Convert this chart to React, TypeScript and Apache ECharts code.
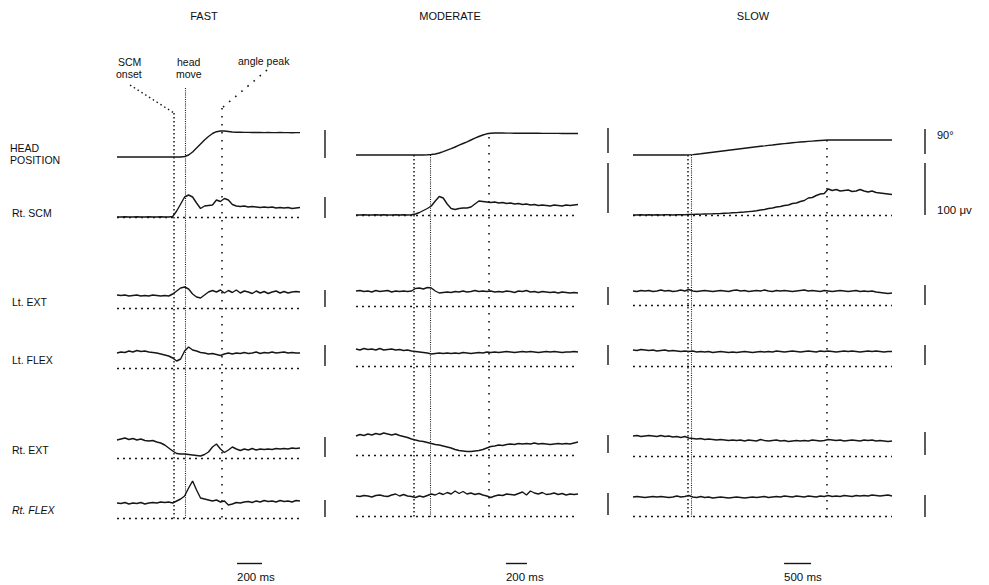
import React, { useEffect, useRef } from "react";
import * as echarts from "echarts";

// ---------------- DATA ----------------
const columnTitles = ["FAST", "MODERATE", "SLOW"];
const rowLabels = ["HEAD", "Rt. SCM", "Lt. EXT", "Lt. FLEX", "Rt. EXT", "Rt. FLEX"];
const spanMs = [1464, 2114, 4800];
const timeBarMs = [200, 200, 500];
const timeBarStartMs = [960, 1428, 2800];
const timeBarLabels = ["200 ms", "200 ms", "500 ms"];
const onsetMs = [456, 552, 1019];
const headMoveMs = [544, 705, 1074];
const anglePeakMs = [840, 1267, 3593];
const eventLabels = ["SCM", "onset", "head", "move", "angle peak"];
const gainLabels = ["90°", "100 μv"];

// traces: amplitude above the dotted baseline (a.u.), evenly sampled over the column's time span
const fastHead = [0,0,0,0,0,0,0,0,0,0,0,0,0,0,0,0,0, 0.5,2,5,9,13,17,20.5,23.5,25.3,26,26,25.5,25, 24.8,24.7,24.6,24.6,24.5,24.5,24.5,24.4,24.5,24.4,24.4,24.5,24.4,24.4,24.3,24.4,24.4];
const fastScm = [0,0,0.2,0,0,0.3,0,0,0.2,0,0,0.3,0,0, 0.5,6,13,20,22,20,14,8.5,11,11.5,12,17,15.5,18.5,17,12.5,11, 10.5,11,10,10.5,10,9.5,10,9.5,10,9,9.5,9,9.5,8.5,9,9.5];
const fastLtExt = [13,12.5,13,12,12.5,13,12,12.5,12,13,12.5,12,12.5,12, 14,17,20,21,19,14,11,10,13,16,17.5,16,18,15,17.5,15.5,18, 15,17,16,14.5,17,15,16.5,14.5,16,17,15,16.5,15,16,16.5,16];
const fastLtFlex = [15,16,15.5,17,16,17.5,16.5,17,16,15.5,15,14,13,12, 10,7,9,17,21,18,17,15.5,15,14,14.5,13.5,12.5,14,15,14,15, 14.5,15.5,14.5,15,16,14.5,15.5,15,16,15,15.5,16,15,15.5,15,15];
const fastRtExt = [18,19,20,18.5,19.5,18,19,17.5,17,17.5,16,15,13,10, 7,4.5,4,4,3.5,3,2.5,2,3.5,6,11,14,9,5.5,8,11,9, 7.5,9,8,9.5,8,9,8.5,9,8.5,9.5,9,9.5,9,10,9.5,10];
const fastRtFlex = [15,14.5,15.5,14,15,14.5,15.5,14,15,15.5,15,16,15.5,16, 15,17,19,22,30,37,28,20,19,18,17,18,16,17,13,14,15.5, 15,16,16.5,15.5,17,16,17.5,16.5,17,16,17.5,16.5,17,16,17.5,17];

const modHead = [0,0,0,0,0,0,0,0,0,0,0,0,0,0,0,0,0,0, 0.2,0.5,1,2,3.3,4.8,6.3,8,9.8,11.5,13.2,15,16.8,18.5,20,21.2,21.8,22, 22,22,21.9,21.9,21.8,21.8,21.8,21.7,21.7,21.7,21.7,21.6,21.6,21.6,21.6,21.6,21.5,21.5,21.5,21.5,21.5];
const modScm = [0,0,0.2,0,0,0.2,0,0.3,0,0,0.2,0,0.3,0,0.2, 1,2.5,4.5,6.5,9,14,18.5,17,11,6.5,5.5,6.5,7,7,8,11,14,13.5,13,12.5, 13,12,12.5,11.5,12,11,11.5,10.5,11,10,10.5,9.5,10,9.5,9,10,9.5,9,10,9.5,10,10.5];
const modLtExt = [15,15.5,14.5,15,14,15.5,14.5,15,15.5,14,15,14.5,15,14.5,15, 17.5,18,17,18.5,18,15,13,13.5,14,13.5,14.5,14,15,14,14.5,15.5,14.5,15,14.5,15, 14,14.5,14,15,14.5,13.5,15,14.5,15.5,14,14.5,13.5,14.5,14,13.5,14,13,14,13.5,13,13.5,13];
const modLtFlex = [17,16,17.5,16.5,17,16,17.5,16,16.5,17,16,16.5,15.5,16,15, 14.5,14,13.5,13,12,12.5,13,12.5,13,12.5,13,12.5,13.5,13,12.5,13,13.5,13,14,13.5, 14,13.5,14,14.5,14,13.5,14,14.5,14,14.5,14,13.5,14,14.5,14,14.5,14,13.5,14,14,14.5,14];
const modRtExt = [19,20.5,19.5,21,20,21.5,20.5,22,21,20,21,19.5,18.5,17.5,16, 15,14,13.5,12.5,11.5,10.5,10,9,8,7,5.5,4.5,4,3.5,3.5,4,4.5,5.5,7,8.5, 9,10,9.5,10.5,11,10.5,11.5,11,11.5,11,12,11,11.5,11,10.5,11,11.5,11,11.5,11,12,13];
const modRtFlex = [20,19.5,20.5,20,19,20.5,21,20,19.5,21,22,20,21.5,20,19.5, 18.5,20,19,20.5,22,21,23,21.5,23.5,22,25,22.5,24.5,22,23,21.5,22.5,21,20,18.5, 20,21,20.5,22,21.5,21,22.5,24,21,25,23,22,23.5,21.5,22,23,21.5,22.5,21,22,21.5,22];

const slowHead = [0,0,0,0,0,0,0,0,0,0,0,0,0,0, 0.1,0.4,0.8,1.2,1.7,2.2,2.7,3.2,3.7,4.2,4.7,5.2,5.7,6.2,6.7,7.2,7.7,8.2,8.7,9.1,9.6,10,10.5,11,11.4,11.8,12.2,12.6,13,13.3,13.6,13.9,14.2,14.5,14.8,15, 15,15,15,15,15,15,15,15,15,15,15,15,15,15,15,15];
const slowScm = [0,0,0.3,0,0.2,0,0.3,0,0.2,0.3,0,0.2,0.4,0.3, 0.5,0.6,0.8,0.9,1,1.1,1.2,1.4,1.5,1.7,1.9,2.2,2.4,2.7,3,3.4,3.8,4.3,5,5.5,6.5,7,8,8.5,9.5,10,11.5,12,13.5,14.5,17,17.5,19.5,21,21.5,26,24.5,25.5,24,24.5,25,23.5,24,25.5,24,23,24,22.5,22,21.5,21,20.5];
const slowLtExt = [14,13.5,14.5,14,14.5,13.5,14,15,14,14.5, 13.5,14,15,14,15.5,14,13.5,14,14.5,14, 13.5,14,14.5,14,13.5,14.5,15,14,14.5,13.5, 14,14.5,14,15,14,13.5,14.5,14,14.5,14, 13.5,14,14.5,15,14,14.5,14,13.5,14.5,14, 13.5,14,14.5,14,13.5,14,14.5,13.5,14,13.5, 14,13,12.5,12,11.5,12];
const slowLtFlex = [16,15.5,16.5,16,15.5,16,15,15.5,16,15, 15.5,15,14.5,15,14.5,15,14,14.5,14,14.5, 13.5,14,14.5,14,13.5,14,13.5,14,14.5,14, 13.5,14,14.5,14,14.5,14,15,14.5,14,14.5, 15,14.5,14,14.5,15,14.5,14,15,14.5,15, 14.5,14,14.5,15,14.5,15,14.5,14,14.5,15, 14.5,15,14.5,14,14.5,14.5];
const slowRtExt = [20,20.5,19.5,20,20.5,20,19.5,20.5,19.5,20, 19,19.5,18.5,19.5,18,17.5,17,17.5,16.5,17, 16.5,16,16.5,16,15.5,16,15.5,16,15,16, 15.5,15,16.5,15.5,15,15.5,16,15,15.5,14.5, 15,15.5,15,15.5,15,16,15.5,15,15.5,16.5, 16,15.5,16,15,15.5,16,15.5,15,16,15.5, 16,15,15.5,15,14.5,15];
const slowRtFlex = [19,19.5,19,18.5,19,19.5,19,19.5,19,18.5, 19,20,19,19.5,20.5,19,18.5,19.5,18.5,19, 18,18.5,19,18.5,18,18.5,19,18.5,18,18.5, 19,18.5,19,19.5,18.5,19,19.5,19,20,19.5, 19,20,19.5,19,20,19.5,19,20,19.5,20.5, 19.5,20,19.5,20.5,20,19.5,20.5,20,20.5,20, 21,20.5,20,20.5,21,20];

const traces = [
  [fastHead, fastScm, fastLtExt, fastLtFlex, fastRtExt, fastRtFlex],
  [modHead, modScm, modLtExt, modLtFlex, modRtExt, modRtFlex],
  [slowHead, slowScm, slowLtExt, slowLtFlex, slowRtExt, slowRtFlex],
];

// ---------------- LAYOUT ----------------
const W = 989;
const H = 585;
const INK = "#161616";
const FONT = '"Liberation Sans", Arial, Helvetica, sans-serif';
const colLeft = [117, 356, 633];
const colWidth = [183, 222, 259];
const titleX = [204, 450, 753];
const rowBase = [
  [157, 217, 308, 368, 458, 518],
  [155, 215, 306, 366, 455, 516],
  [155, 215, 305, 366, 456, 516],
];
const Y_MIN = -6;
const Y_MAX = 42;
const barX = [325, 608, 925];
const barSpans = [
  [[130, 158], [197, 218], [290, 307], [345, 366], [437, 457], [500, 517]],
  [[128, 153], [163, 213], [287, 305], [345, 365], [435, 453], [493, 515]],
  [[129, 154], [163, 215], [285, 305], [345, 365], [432, 455], [495, 517]],
];
const onsetSpan = [[113, 519], [155, 517], [155, 518]];
const headSpan = [[88, 519], [155, 517], [155, 518]];
const peakSpan = [[108, 519], [137, 517], [140, 518]];
const labelY = [148, 213, 302, 360, 450, 510];

function buildOption() {
  const grid: any[] = [];
  const xAxis: any[] = [];
  const yAxis: any[] = [];
  const series: any[] = [];
  const graphic: any[] = [];
  let gi = 0;

  const onsetStyle = { color: INK, width: 1.5, type: [1.5, 2.5] };
  const headStyle = { color: INK, width: 1.1, type: [1, 1.2] };
  const peakStyle = { color: INK, width: 1.6, type: [1.6, 6.4] };

  for (let c = 0; c < 3; c++) {
    for (let r = 0; r < 6; r++) {
      grid.push({ left: colLeft[c], width: colWidth[c], top: rowBase[c][r] - Y_MAX, height: Y_MAX - Y_MIN });
      xAxis.push({ type: "value", gridIndex: gi, min: 0, max: spanMs[c], show: false });
      yAxis.push({ type: "value", gridIndex: gi, min: Y_MIN, max: Y_MAX, show: false });
      const vals = traces[c][r];
      const dt = spanMs[c] / (vals.length - 1);
      series.push({
        type: "line",
        xAxisIndex: gi,
        yAxisIndex: gi,
        data: vals.map((v, i) => [i * dt, v]),
        showSymbol: false,
        symbol: "none",
        silent: true,
        clip: false,
        lineStyle: { color: INK, width: 1.4 },
        markLine:
          r > 0
            ? {
                silent: true,
                symbol: ["none", "none"],
                label: { show: false },
                lineStyle: { color: INK, width: 1.4, type: [2, 4] },
                data: [{ yAxis: 0 }],
              }
            : undefined,
      });
      gi++;
    }
    // overlay grid: x in ms, y in page pixels
    grid.push({ left: colLeft[c], width: colWidth[c], top: 0, height: H });
    xAxis.push({ type: "value", gridIndex: gi, min: 0, max: spanMs[c], show: false });
    yAxis.push({ type: "value", gridIndex: gi, min: 0, max: H, inverse: true, show: false });
    const ml: any[] = [
      [{ coord: [onsetMs[c], onsetSpan[c][0]], lineStyle: onsetStyle }, { coord: [onsetMs[c], onsetSpan[c][1]] }],
      [{ coord: [headMoveMs[c], headSpan[c][0]], lineStyle: headStyle }, { coord: [headMoveMs[c], headSpan[c][1]] }],
      [{ coord: [anglePeakMs[c], peakSpan[c][0]], lineStyle: peakStyle }, { coord: [anglePeakMs[c], peakSpan[c][1]] }],
      [
        { coord: [timeBarStartMs[c], 563], lineStyle: { color: INK, width: 1.4, type: "solid" } },
        { coord: [timeBarStartMs[c] + timeBarMs[c], 563] },
      ],
    ];
    if (c === 0) {
      ml.push([{ coord: [104, 85], lineStyle: { color: INK, width: 1.4, type: [1.5, 3] } }, { coord: [onsetMs[0], onsetSpan[0][0]] }]);
      ml.push([{ coord: [1200, 70], lineStyle: peakStyle }, { coord: [anglePeakMs[0], peakSpan[0][0]] }]);
    }
    series.push({
      type: "line",
      xAxisIndex: gi,
      yAxisIndex: gi,
      data: [],
      showSymbol: false,
      silent: true,
      markLine: { silent: true, symbol: ["none", "none"], label: { show: false }, data: ml },
    });
    gi++;

    // column title
    graphic.push(txt(columnTitles[c], titleX[c], 16, 11, "center"));
    // time scale label
    const barPx = colLeft[c] + (timeBarStartMs[c] / spanMs[c]) * colWidth[c];
    graphic.push(txt(timeBarLabels[c], barPx, 577, 11.5, "left"));
    // gain bars
    for (let r = 0; r < 6; r++) {
      graphic.push({
        type: "line",
        silent: true,
        shape: { x1: barX[c], y1: barSpans[c][r][0], x2: barX[c], y2: barSpans[c][r][1] },
        style: { stroke: INK, lineWidth: 1.4 },
      });
    }
  }

  // row labels
  graphic.push(txt(rowLabels[0], 10, 148, 10.5, "left"));
  graphic.push(txt("POSITION", 10, 160, 10.5, "left"));
  for (let r = 1; r < 6; r++) {
    graphic.push(txt(rowLabels[r], 12, labelY[r], 10.5, "left", r === 5 ? "italic" : "normal"));
  }
  // event labels
  graphic.push(txt(eventLabels[0], 118, 62, 10.5, "left"));
  graphic.push(txt(eventLabels[1], 116, 74, 10.5, "left"));
  graphic.push(txt(eventLabels[2], 177, 62, 10.5, "left"));
  graphic.push(txt(eventLabels[3], 176, 74, 10.5, "left"));
  graphic.push(txt(eventLabels[4], 238, 61, 10.5, "left"));
  // gain labels
  graphic.push(txt(gainLabels[0], 937, 135, 11, "left"));
  graphic.push(txt(gainLabels[1], 937, 210, 11.5, "left"));

  return {
    animation: false,
    backgroundColor: "#ffffff",
    grid,
    xAxis,
    yAxis,
    series,
    graphic,
  };
}

function txt(text: string, x: number, y: number, size: number, align: string, fontStyle = "normal") {
  return {
    type: "text",
    silent: true,
    x,
    y,
    style: {
      text,
      fill: "#0e0e0e",
      font: `${fontStyle} ${size}px ${FONT}`,
      align,
      textAlign: align,
      verticalAlign: "middle",
      textVerticalAlign: "middle",
    },
  };
}

export default function App() {
  const ref = useRef<HTMLDivElement>(null);
  useEffect(() => {
    document.body.style.margin = "0";
    const chart = echarts.init(ref.current!, undefined, { renderer: "svg", width: W, height: H });
    chart.setOption(buildOption() as any);
    return () => chart.dispose();
  }, []);
  return <div ref={ref} style={{ width: W, height: H, position: "absolute", left: 0, top: 0 }} />;
}
